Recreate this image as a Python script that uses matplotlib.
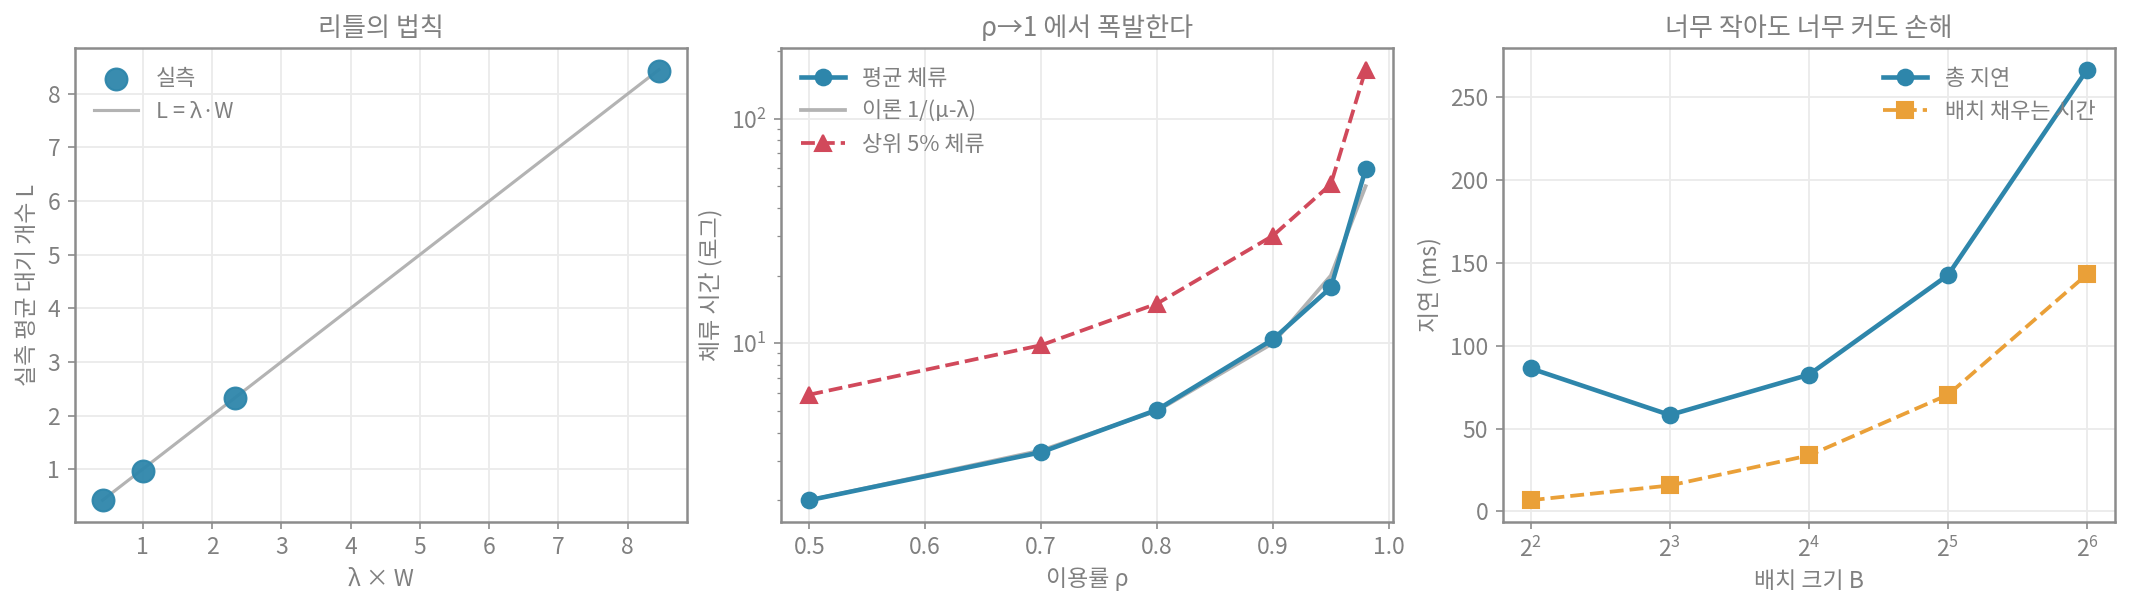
import numpy as np
import matplotlib
matplotlib.use("Agg")
import matplotlib.pyplot as plt

plt.rcParams["font.family"] = ["Noto Sans CJK KR", "DejaVu Sans"]
plt.rcParams["font.size"] = 11
plt.rcParams["axes.unicode_minus"] = False
plt.rcParams["text.color"] = "#808080"
plt.rcParams["axes.labelcolor"] = "#808080"
plt.rcParams["xtick.color"] = "#8c8c8c"
plt.rcParams["ytick.color"] = "#8c8c8c"
plt.rcParams["xtick.labelcolor"] = "#808080"
plt.rcParams["ytick.labelcolor"] = "#808080"
plt.rcParams["axes.edgecolor"] = "#8c8c8c"
plt.rcParams["axes.linewidth"] = 1.2
plt.rcParams["axes.titlecolor"] = "#808080"
plt.rcParams["axes.titlesize"] = 12.5
plt.rcParams["axes.labelsize"] = 11
plt.rcParams["legend.fontsize"] = 10.5
plt.rcParams["mathtext.fontset"] = "custom"
plt.rcParams["mathtext.rm"] = "Noto Sans CJK KR"

BLUE = "#2e86ab"
RED = "#d1495b"
ORANGE = "#eaa038"
GREY = "#b3b3b3"
GRID = "#ebebeb"

# 리틀의 법칙
lw_product = [0.42, 1.0, 2.33, 8.45]
measured_L = [0.42, 0.97, 2.32, 8.42]

# 이용률별 체류 시간
rho = [0.5, 0.7, 0.8, 0.9, 0.95, 0.98]
mean_sojourn = [2.0, 3.27, 5.05, 10.4, 17.7, 59.5]
theory_sojourn = [2.0, 3.33, 5.0, 10.0, 20.0, 50.0]
p95_sojourn = [5.9, 9.8, 15.0, 30.1, 51.0, 165.0]

# 배치 크기
batch_size = [4, 8, 16, 32, 64]
total_latency = [86.3, 58.2, 82.5, 142.6, 266.5]
fill_time = [6.8, 15.7, 33.8, 70.4, 143.1]

fig, axes = plt.subplots(1, 3, figsize=(14.2, 610 / 150), dpi=150)

# --- 1
ax = axes[0]
ax.scatter(lw_product, measured_L, s=110, color=BLUE, alpha=0.95, zorder=3, label="실측")
ax.plot([lw_product[0], lw_product[-1]], [lw_product[0], lw_product[-1]],
        color=GREY, lw=1.5, zorder=2, label="L = λ·W")
ax.set_xticks(range(1, 9))
ax.set_yticks(range(1, 9))
ax.set_title("리틀의 법칙")
ax.set_xlabel("λ × W")
ax.set_ylabel("실측 평균 대기 개수 L")
ax.legend(loc="upper left", frameon=False)

# --- 2
ax = axes[1]
ax.plot(rho, mean_sojourn, "-o", color=BLUE, lw=2.2, ms=7.5, zorder=3, label="평균 체류")
ax.plot(rho, theory_sojourn, "-", color=GREY, lw=1.8, zorder=2, label="이론 1/(μ-λ)")
ax.plot(rho, p95_sojourn, "--^", color=RED, lw=1.8, ms=7.5, zorder=3, label="상위 5% 체류")
ax.set_yscale("log")
ax.set_xticks([0.5, 0.6, 0.7, 0.8, 0.9, 1.0])
ax.set_title("ρ→1 에서 폭발한다")
ax.set_xlabel("이용률 ρ")
ax.set_ylabel("체류 시간 (로그)")
ax.legend(loc="upper left", frameon=False)

# --- 3
ax = axes[2]
ax.plot(batch_size, total_latency, "-o", color=BLUE, lw=2.2, ms=7.5, zorder=3, label="총 지연")
ax.plot(batch_size, fill_time, "--s", color=ORANGE, lw=1.8, ms=7.5, zorder=3, label="배치 채우는 시간")
ax.set_xscale("log", base=2)
ax.set_xticks(batch_size)
ax.set_title("너무 작아도 너무 커도 손해")
ax.set_xlabel("배치 크기 B")
ax.set_ylabel("지연 (ms)")
ax.legend(loc="upper right", frameon=False)

for ax in axes:
    ax.grid(True, color=GRID, lw=0.9)
    ax.set_axisbelow(True)
    ax.tick_params(labelsize=11)

# 패널 위치 (그림 비율)
for ax, left in zip(axes, [0.0351, 0.3669, 0.7056]):
    ax.set_position([left, 0.1447, 0.2873, 0.7763])

plt.savefig("out.png", dpi=150)
